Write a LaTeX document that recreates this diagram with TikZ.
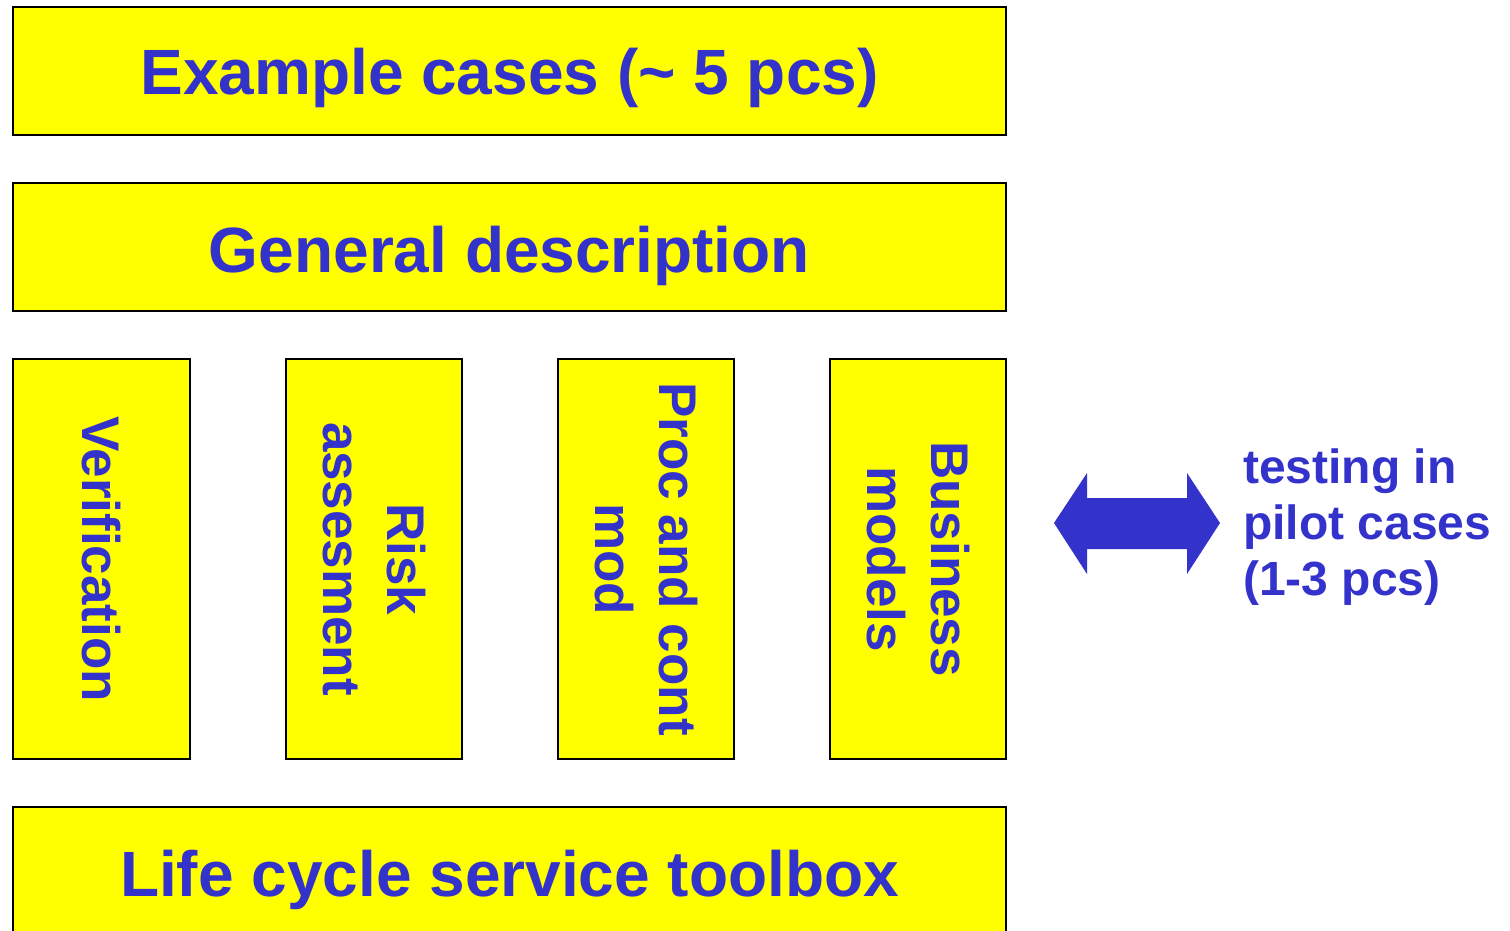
\documentclass[tikz,border=0pt]{standalone}
\usepackage{fontspec}
\setmainfont{Liberation Sans}
\definecolor{boxyellow}{HTML}{FFFF00}
\definecolor{textblue}{HTML}{3333CC}
\tikzset{
  box/.style={draw=black, line width=1.6pt, fill=boxyellow},
  lbl/.style={text=textblue, align=center, inner sep=0pt},
  wide/.style={lbl, font=\bfseries\fontsize{64}{77}\selectfont},
  column/.style={lbl, rotate=-90, font=\bfseries\fontsize{53}{64}\selectfont},
  side/.style={text=textblue, align=left, inner sep=0pt, font=\bfseries\fontsize{48}{56}\selectfont}
}

\begin{document}
\begin{tikzpicture}[x=1pt,y=-1pt]
	%%%%% START %%%%%
	\useasboundingbox (0,0) rectangle (1510,931);

	\draw[box] (13,7) rectangle (1006,135);
	\node[wide, anchor=base] (example) at (509.5,95) {Example cases (\textasciitilde{} 5 pcs)};

	\draw[box] (13,183) rectangle (1006,311);
	\node[wide, anchor=base] (general) at (509.5,272) {General description};

	% the four columns
	\draw[box] (13,359) rectangle (190,759);
	\draw[box] (286,359) rectangle (462,759);
	\draw[box] (558,359) rectangle (734,759);
	\draw[box] (830,359) rectangle (1006,759);
	\node[column] (verif) at (101.5,559) {Verification};
	\node[column] (risk) at (374,559) {Risk\\assesment};
	\node[column] (proc) at (646,559) {Proc and cont\\mod};
	\node[column] (business) at (918,559) {Business\\models};

	\draw[box] (13,807) rectangle (1006,940);
	\node[wide, anchor=base] (toolbox) at (509.5,896) {Life cycle service toolbox};

	% arrow to the pilot cases
	\fill[textblue] (1054,523) -- (1087,473) -- (1087,498) -- (1187,498) -- (1187,473)
	  -- (1220,523) -- (1187,574) -- (1187,549) -- (1087,549) -- (1087,574) -- cycle;
	\node[side, anchor=west] (pilot) at (1243,527) {testing in\\pilot cases\\(1-3 pcs)};

	%%%%% END %%%%%
\end{tikzpicture}
\end{document}
